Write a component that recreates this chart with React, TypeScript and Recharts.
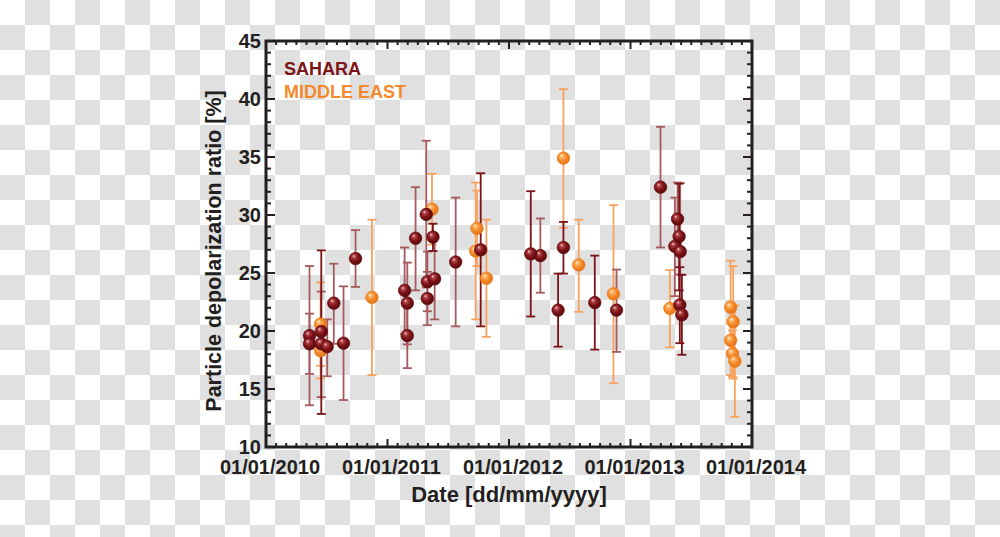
import React from 'react';
import { ScatterChart, Scatter, XAxis, YAxis, ErrorBar, ReferenceArea, Legend } from 'recharts';

// [decimal year, depolarization ratio %, error below, error above]
const saharaLight: [number, number, number, number][] = [
  [2010.358, 19.6, 6.0, 6.0],
  [2010.358, 18.9, 2.6, 2.6],
  [2010.455, 18.9, 4.6, 4.5],
  [2010.504, 18.65, 2.55, 2.35],
  [2010.558, 22.4, 3.5, 3.4],
  [2010.638, 18.95, 4.9, 4.9],
  [2010.737, 26.25, 2.45, 2.45],
  [2011.141, 23.5, 3.75, 3.7],
  [2011.163, 22.4, 3.55, 3.5],
  [2011.163, 19.6, 2.8, 2.8],
  [2011.231, 28.0, 4.5, 4.4],
  [2011.319, 30.05, 6.3, 6.35],
  [2011.328, 24.25, 2.55, 2.6],
  [2011.328, 22.8, 2.3, 2.3],
  [2011.388, 24.5, 3.5, 3.5],
  [2011.561, 25.95, 5.55, 5.55],
  [2012.258, 26.5, 3.2, 3.2],
  [2012.885, 21.8, 3.6, 3.5],
  [2013.247, 32.4, 5.2, 5.2],
  [2013.365, 27.3, 4.3, 4.2],
  [2013.387, 29.65, 2.1, 3.15],
  [2013.409, 26.85, 2.0, 5.9],
];

const saharaDark: [number, number, number, number][] = [
  [2010.455, 19.95, 7.1, 7.0],
  [2011.374, 28.1, 1.2, 1.15],
  [2011.767, 27.0, 6.6, 6.6],
  [2012.179, 26.65, 5.4, 5.4],
  [2012.404, 21.8, 3.15, 3.15],
  [2012.448, 27.2, 2.25, 2.2],
  [2012.706, 22.45, 4.05, 4.05],
  [2013.4, 28.15, 4.65, 4.55],
  [2013.406, 22.25, 3.3, 3.25],
  [2013.423, 21.4, 3.45, 3.45],
];

const middleEast: [number, number, number, number][] = [
  [2010.449, 20.6, 3.6, 3.6],
  [2010.449, 18.3, 2.4, 2.4],
  [2010.872, 22.9, 6.7, 6.7],
  [2011.366, 30.5, 3.05, 3.05],
  [2011.726, 26.9, 5.9, 5.9],
  [2011.737, 28.85, 3.25, 3.25],
  [2011.814, 24.55, 5.05, 5.05],
  [2012.448, 34.9, 6.0, 5.95],
  [2012.574, 25.7, 4.05, 3.9],
  [2012.86, 23.2, 7.7, 7.65],
  [2013.324, 21.95, 3.35, 3.3],
  [2013.824, 22.05, 4.0, 4.0],
  [2013.845, 20.8, 4.9, 4.8],
  [2013.824, 19.2, 3.0, 3.0],
  [2013.84, 18.05, 2.0, 2.0],
  [2013.859, 17.4, 4.8, 4.8],
];

const legendItems = [
  { label: 'SAHARA', color: '#7D1417' },
  { label: 'MIDDLE EAST', color: '#F5892B' },
];

const xTicks = Array.from({ length: 49 }, (_, i) => 2010 + i / 12);
const yTicks = Array.from({ length: 36 }, (_, i) => 10 + i);

const PLOT_TOP = 41;
const PLOT_RIGHT = 752;
const INK = '#231F20';
const FONT = '"Liberation Sans", Arial, Helvetica, sans-serif';

const toRows = (rows: [number, number, number, number][]) =>
  rows.map(([x, y, lo, hi]) => ({ x, y, err: [lo, hi] }));

const XTick = (props: any) => {
  const { x, y, payload } = props;
  const v = payload.value;
  const major = Math.abs(v - Math.round(v)) < 1e-6;
  const len = major ? 8 : 4;
  return (
    <g>
      <line x1={x} x2={x} y1={y} y2={y - len} stroke={INK} strokeWidth={2} />
      <line x1={x} x2={x} y1={PLOT_TOP} y2={PLOT_TOP + len} stroke={INK} strokeWidth={2} />
      {major && (
        <text x={x + 4} y={y + 27} textAnchor="middle" fontFamily={FONT} fontWeight="bold" fontSize={20} fill={INK}>
          {`01/01/${Math.round(v)}`}
        </text>
      )}
    </g>
  );
};

const YTick = (props: any) => {
  const { x, y, payload } = props;
  const v = payload.value;
  const major = v % 5 === 0;
  const len = major ? 9 : 5;
  return (
    <g>
      <line x1={x} x2={x + len} y1={y} y2={y} stroke={INK} strokeWidth={2} />
      <line x1={PLOT_RIGHT} x2={PLOT_RIGHT - len} y1={y} y2={y} stroke={INK} strokeWidth={2} />
      {major && (
        <text x={x - 5} y={y + 7} textAnchor="end" fontFamily={FONT} fontWeight="bold" fontSize={20} fill={INK}>
          {v}
        </text>
      )}
    </g>
  );
};

const ball = (gradId: string, edge: string) => (props: any) => (
  <circle cx={props.cx} cy={props.cy} r={6.3} fill={`url(#${gradId})`} stroke={edge} strokeWidth={0.6} />
);

const LegendBox = () => (
  <div style={{ fontFamily: FONT, fontWeight: 'bold', fontSize: 18, lineHeight: '23px' }}>
    {legendItems.map((item) => (
      <div key={item.label} style={{ color: item.color }}>{item.label}</div>
    ))}
  </div>
);

export default function App() {
  return (
    <div
      style={{
        position: 'absolute',
        left: 0,
        top: 0,
        width: 1000,
        height: 537,
        background: 'repeating-conic-gradient(#e0e0e0 0% 25%, #ffffff 0% 50%) 0 0 / 50px 50px',
      }}
    >
      <svg width={0} height={0} style={{ position: 'absolute' }}>
        <defs>
          <radialGradient id="ballSahara" cx="45%" cy="45%" r="60%" fx="35%" fy="30%">
            <stop offset="0%" stopColor="#F4D2D2" />
            <stop offset="22%" stopColor="#B0424A" />
            <stop offset="55%" stopColor="#7E1418" />
            <stop offset="100%" stopColor="#55070A" />
          </radialGradient>
          <radialGradient id="ballMiddleEast" cx="45%" cy="45%" r="60%" fx="35%" fy="30%">
            <stop offset="0%" stopColor="#FFF0DC" />
            <stop offset="22%" stopColor="#FBB46A" />
            <stop offset="55%" stopColor="#F58A25" />
            <stop offset="100%" stopColor="#E06E18" />
          </radialGradient>
        </defs>
      </svg>
      <ScatterChart width={1000} height={537} margin={{ top: PLOT_TOP, right: 1000 - PLOT_RIGHT, bottom: 0, left: 0 }}>
        <XAxis
          type="number"
          dataKey="x"
          domain={[2010, 2014]}
          ticks={xTicks}
          interval={0}
          height={90}
          axisLine={false}
          tickLine={false}
          tickSize={0}
          tickMargin={0}
          tick={<XTick />}
          label={() => (
            <text x={509} y={502} textAnchor="middle" fontFamily={FONT} fontWeight="bold" fontSize={22} fill={INK}>
              Date [dd/mm/yyyy]
            </text>
          )}
        />
        <YAxis
          type="number"
          dataKey="y"
          domain={[10, 45]}
          ticks={yTicks}
          interval={0}
          width={266}
          axisLine={false}
          tickLine={false}
          tickSize={0}
          tickMargin={0}
          tick={<YTick />}
          label={() => (
            <text
              transform="translate(221,251) rotate(-90)"
              textAnchor="middle"
              fontFamily={FONT}
              fontWeight="bold"
              fontSize={21.5}
              fill={INK}
            >
              Particle depolarization ratio [%]
            </text>
          )}
        />
        <ReferenceArea x1={2010} x2={2014} y1={10} y2={45} fill="none" stroke={INK} strokeWidth={3} />
        <Legend
          layout="vertical"
          align="center"
          verticalAlign="middle"
          content={<LegendBox />}
          wrapperStyle={{ position: 'absolute', left: 284, top: 58, width: 'auto' }}
        />
        <Scatter name="MIDDLE EAST" data={toRows(middleEast)} shape={ball('ballMiddleEast', '#E57A1A')} isAnimationActive={false}>
          <ErrorBar dataKey="err" direction="y" width={4.5} stroke="#F8A25E" strokeWidth={1.8} isAnimationActive={false} />
        </Scatter>
        <Scatter name="SAHARA" data={toRows(saharaLight)} shape={ball('ballSahara', '#5A0A0D')} isAnimationActive={false}>
          <ErrorBar dataKey="err" direction="y" width={4.5} stroke="#A55A5D" strokeWidth={1.8} isAnimationActive={false} />
        </Scatter>
        <Scatter name="SAHARA dark" data={toRows(saharaDark)} shape={ball('ballSahara', '#5A0A0D')} isAnimationActive={false}>
          <ErrorBar dataKey="err" direction="y" width={4.5} stroke="#7A1216" strokeWidth={1.8} isAnimationActive={false} />
        </Scatter>
      </ScatterChart>
    </div>
  );
}
